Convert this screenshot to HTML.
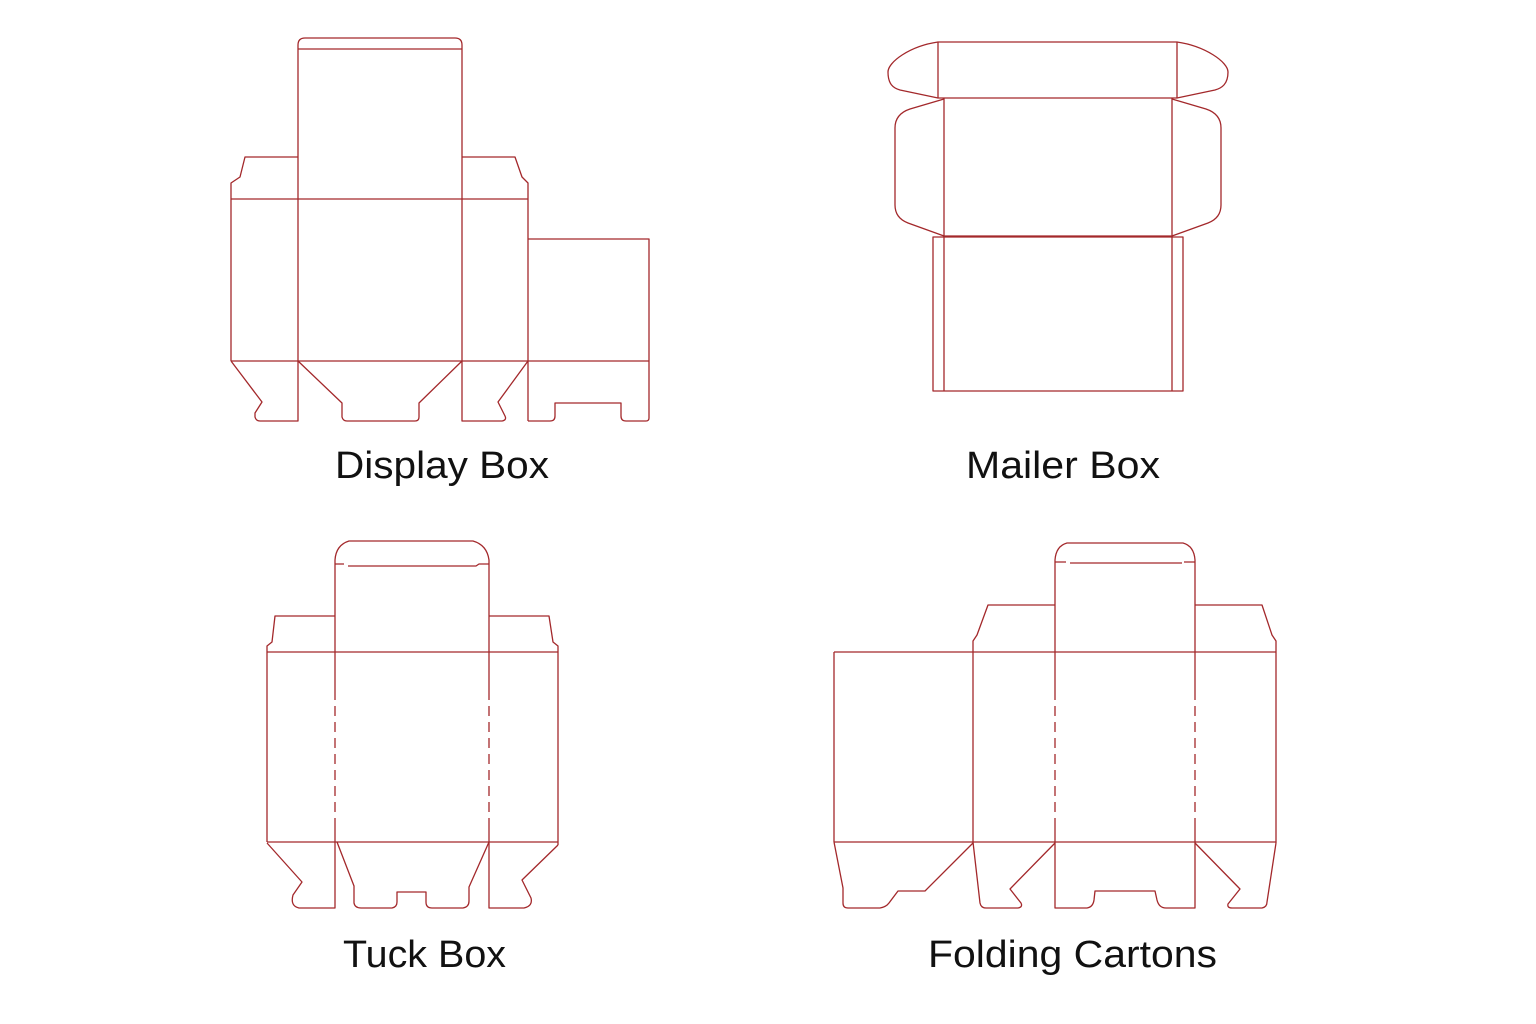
<!DOCTYPE html>
<html><head><meta charset="utf-8"><style>
html,body{margin:0;padding:0;background:#fff;}
svg{display:block}
</style></head><body>
<svg width="1536" height="1024" viewBox="0 0 1536 1024" xmlns="http://www.w3.org/2000/svg">
<g fill="none" stroke="#a3282b" stroke-width="1.3" stroke-linejoin="round">
<!-- DISPLAY BOX -->
<path d="M298,361 L298,45 Q298,38 305,38 L455,38 Q462,38 462,45 L462,361"/>
<path d="M298,49 L462,49"/>
<path d="M298,157 L245,157 L240,177 L231,183 L231,361"/>
<path d="M462,157 L515,157 L522,177 L528,183 L528,421"/>
<path d="M231,199 L528,199"/>
<path d="M528,239 L649,239 L649,418 Q649,421 646,421 L626,421 Q621,421 621,416 L621,403 L555,403 L555,416 Q555,421 550,421 L528,421"/>
<path d="M231,361 L649,361"/>
<path d="M231,361 L262,402 L255,413 L255,417 Q256,421 260,421 L298,421 L298,361"/>
<path d="M298,361 L342,403 L342,417 Q343,421 347,421 L415,421 Q419,421 419,417 L419,403 L462,361"/>
<path d="M462,361 L462,421 L502,421 Q507,420 505,416 L498,402 L528,361"/>
<!-- MAILER BOX -->
<path d="M938,42 L1177,42 L1177,98 L938,98 Z"/>
<path d="M938,42 C910,46 888,62 888,72 C888,84 893,88 900,90 L938,98"/>
<path d="M1177,42 C1205,46 1228,62 1228,72 C1228,84 1222,88 1215,90 L1177,98"/>
<path d="M944,98 L944,236 M1172,98 L1172,236"/>
<path d="M944,99 L910,109 Q895,114 895,128 L895,205 Q895,218 908,223 L944,236"/>
<path d="M1172,99 L1206,109 Q1221,114 1221,128 L1221,205 Q1221,218 1208,223 L1172,236"/>
<path d="M933,237 L1183,237 L1183,391 L933,391 Z"/>
<path d="M944,236 L944,391 M1172,236 L1172,391 M944,236 L1172,236"/>
<!-- TUCK BOX -->
<path d="M335,842 L335,560 Q336,545 349,541 L473,541 Q487,545 489,560 L489,842"/>
<path d="M335,564 L344,564 M348,566 L476,566 L479,564 L489,564"/>
<path d="M335,616 L275,616 L272,642 L267,646 L267,842"/>
<path d="M489,616 L549,616 L553,642 L558,646 L558,845"/>
<path d="M267,652 L558,652 M267,842 L558,842"/>
<path d="M267,843 L302,882 L293,895 Q290,906 299,908 L335,908 L335,842"/>
<path d="M337,842 L354,886 L354,903 Q355,908 361,908 L392,908 Q397,907 397,902 L397,892 L426,892 L426,902 Q426,908 432,908 L463,908 Q469,907 469,901 L469,887 L489,842"/>
<path d="M489,842 L489,908 L524,908 Q533,906 531,898 L522,880 L558,845"/>
<!-- FOLDING CARTONS -->
<path d="M1055,842 L1055,560 Q1056,546 1067,543 L1183,543 Q1194,546 1195,560 L1195,842"/>
<path d="M1055,562 L1066,562 M1070,563 L1182,563 M1184,562 L1195,562"/>
<path d="M1055,605 L988,605 L977,635 L973,641 L973,842"/>
<path d="M1195,605 L1262,605 L1272,635 L1276,641 L1276,843"/>
<path d="M834,652 L1276,652 M834,842 L1276,842"/>
<path d="M834,652 L834,842"/>
<path d="M834,842 L843,888 L843,903 Q843,908 848,908 L880,908 Q886,907 889,903 L898,891 L925,891 L973,843"/>
<path d="M973,842 L980,903 Q981,908 986,908 L1018,908 Q1023,907 1021,903 L1010,889 L1055,843"/>
<path d="M1055,842 L1055,908 L1087,908 Q1093,907 1094,900 L1095,891 L1155,891 L1157,900 Q1159,908 1166,908 L1195,908 L1195,842"/>
<path d="M1195,843 L1240,889 L1228,904 Q1227,908 1232,908 L1262,908 Q1267,907 1267,902 L1276,843"/>
</g>
<g stroke="#fff" stroke-width="3">
<path d="M335,690 L335,825 M489,690 L489,825 M1055,690 L1055,825 M1195,690 L1195,825"/>
</g>
<g stroke="#a3282b" stroke-width="1.3" stroke-dasharray="10 6">
<path d="M335,690 L335,825 M489,690 L489,825 M1055,690 L1055,825 M1195,690 L1195,825"/>
</g>
<g font-family="'Liberation Sans', 'DejaVu Sans', sans-serif" font-size="38" fill="#111">
<text x="335" y="478" textLength="214" lengthAdjust="spacingAndGlyphs">Display Box</text>
<text x="966" y="478" textLength="194" lengthAdjust="spacingAndGlyphs">Mailer Box</text>
<text x="343" y="967" textLength="163" lengthAdjust="spacingAndGlyphs">Tuck Box</text>
<text x="928" y="967" textLength="289" lengthAdjust="spacingAndGlyphs">Folding Cartons</text>
</g>
</svg>
</body></html>
